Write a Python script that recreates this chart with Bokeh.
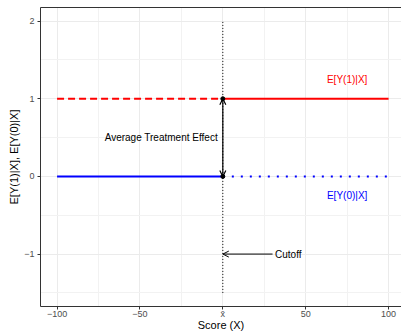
from bokeh.plotting import figure
from bokeh.models import FixedTicker, Arrow, OpenHead, Range1d, LinearAxis
from bokeh.core.properties import value
from bokeh.embed import file_html
from bokeh.resources import INLINE

# Data
cutoff = 0
x_left = [-100, 0]
x_right = [0, 100]
y1_left = [1, 1]      # E[Y(1)|X], unobserved below cutoff
y1_right = [1, 1]     # E[Y(1)|X], observed above cutoff
y0_left = [0, 0]      # E[Y(0)|X], observed below cutoff
y0_right = [0, 0]     # E[Y(0)|X], unobserved above cutoff
cut_line_y = [-1.5, 2]
ate_y = [0, 1]
cutoff_label_y = -1
cutoff_arrow_x = 30
x_ticks = [-100, -50, 0, 50, 100]
x_tick_labels = ["\u2212100", "\u221250", "x\u0304", "50", "100"]
y_ticks = [-1, 0, 1, 2]
y_tick_labels = ["\u22121", "0", "1", "2"]
x_minor = [-75, -25, 25, 75]
y_minor = [-1.5, -0.5, 0.5, 1.5]

FONT = "Liberation Sans"

p = figure(width=401, height=333, output_backend="svg", toolbar_location=None,
           x_range=Range1d(-110, 107.8), y_range=Range1d(-1.675, 2.175),
           min_border_left=40, min_border_top=7, min_border_right=0, min_border_bottom=0,
           x_axis_label="Score (X)", y_axis_label="E[Y(1)|X], E[Y(0)|X]")
p.outline_line_color = None
p.background_fill_color = "white"

for ax, ticks, minor, labels in [(p.xaxis[0], x_ticks, x_minor, x_tick_labels),
                                 (p.yaxis[0], y_ticks, y_minor, y_tick_labels)]:
    ax.ticker = FixedTicker(ticks=ticks, minor_ticks=minor)
    ax.major_label_overrides = {t: l for t, l in zip(ticks, labels)}
    ax.major_tick_out = 3
    ax.major_tick_in = 0
    ax.minor_tick_out = 0
    ax.minor_tick_in = 0
    ax.major_tick_line_color = "#333333"
    ax.major_label_text_color = "#4D4D4D"
    ax.major_label_text_font = FONT
    ax.major_label_text_font_size = "9px"
    ax.axis_label_text_font = FONT
    ax.axis_label_text_font_size = "11px"
    ax.axis_label_text_font_style = "normal"
    ax.axis_label_text_color = "black"
    ax.axis_line_color = "#333333"

p.xaxis.major_label_standoff = -1
p.xaxis.axis_label_standoff = -3
p.yaxis.major_label_standoff = 3
p.yaxis.axis_label_standoff = 1

top = LinearAxis(ticker=FixedTicker(ticks=[]), major_label_text_font_size="0px",
                 major_tick_out=0, minor_tick_out=0, axis_line_color="#333333")
p.add_layout(top, "above")

for g in [p.xgrid[0], p.ygrid[0]]:
    g.grid_line_color = "#EBEBEB"
    g.grid_line_width = 1
    g.minor_grid_line_color = "#F2F2F2"
    g.minor_grid_line_width = 1
p.xgrid[0].ticker = FixedTicker(ticks=x_ticks, minor_ticks=x_minor)
p.ygrid[0].ticker = FixedTicker(ticks=y_ticks, minor_ticks=y_minor)

# cutoff vertical line
p.line([cutoff, cutoff], cut_line_y, line_color="black", line_width=1, line_dash="1 2")

# E[Y(1)|X]
p.line(x_left, y1_left, line_color="red", line_width=2, line_dash="7 4")
p.line(x_right, y1_right, line_color="red", line_width=2)
# E[Y(0)|X]
p.line(x_left, y0_left, line_color="blue", line_width=2)
p.line(x_right, y0_right, line_color="blue", line_width=2, line_dash="2 7")

# ATE arrow
p.add_layout(Arrow(x_start=cutoff, y_start=ate_y[0], x_end=cutoff, y_end=ate_y[1],
                   line_color="black", line_width=1.2,
                   start=OpenHead(size=6, line_color="black", line_width=1.2),
                   end=OpenHead(size=6, line_color="black", line_width=1.2)))
p.scatter([cutoff, cutoff], ate_y, size=4, marker="circle", color="black")

# Cutoff arrow
p.add_layout(Arrow(x_start=cutoff_arrow_x, y_start=cutoff_label_y, x_end=cutoff, y_end=cutoff_label_y,
                   line_color="black", line_width=1,
                   end=OpenHead(size=6, line_color="black", line_width=1)))

p.text([cutoff_arrow_x + 1.5], [cutoff_label_y], text=["Cutoff"], text_font=value(FONT),
       text_font_size="10px", text_align="left", text_baseline="middle", text_color="black")
p.text([-3], [0.5], text=["Average Treatment Effect"], text_font=value(FONT),
       text_font_size="10px", text_align="right", text_baseline="middle", text_color="black")
p.text([75], [1.25], text=["E[Y(1)|X]"], text_font=value(FONT),
       text_font_size="10px", text_align="center", text_baseline="middle", text_color="red")
p.text([75], [-0.25], text=["E[Y(0)|X]"], text_font=value(FONT),
       text_font_size="10px", text_align="center", text_baseline="middle", text_color="blue")

open("out.html", "w").write(file_html(p, INLINE))
